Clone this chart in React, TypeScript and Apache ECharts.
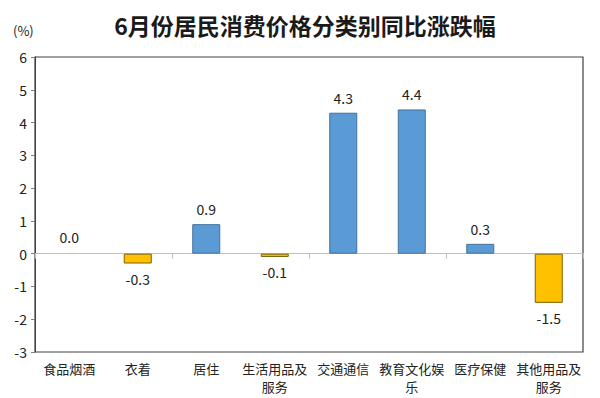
import React, { useEffect, useRef } from "react";
import * as echarts from "echarts";

const categories = ["食品烟酒", "衣着", "居住", "生活用品及\n服务", "交通通信", "教育文化娱\n乐", "医疗保健", "其他用品及\n服务"];
const values = [0.0, -0.3, 0.9, -0.1, 4.3, 4.4, 0.3, -1.5];
const yTicks = { min: -3, max: 6, interval: 1 };
const titleText = "6月份居民消费价格分类别同比涨跌幅";
const unitText = "(%)";

export default function App() {
  const ref = useRef<HTMLDivElement>(null);
  useEffect(() => {
    if (!ref.current) return;
    const chart = echarts.init(ref.current, null, { renderer: "svg" });
    const font = "'Noto Sans CJK SC', 'Noto Sans', sans-serif";
    chart.setOption({
      animation: false,
      backgroundColor: "#ffffff",
      textStyle: { fontFamily: font },
      title: {
        text: titleText,
        left: 300,
        textAlign: "center",
        top: 8,
        textStyle: { fontSize: 23, fontWeight: "bold", color: "#1a1a1a", fontFamily: font },
      },
      graphic: [
        {
          type: "text",
          left: 13,
          top: 24,
          style: { text: unitText, fontSize: 13, fill: "#222", fontFamily: font },
        },
      ],
      grid: {
        left: 35,
        right: 17,
        top: 57,
        bottom: 46,
        show: true,
        borderColor: "#404040",
        borderWidth: 1.2,
        containLabel: false,
      },
      xAxis: [
        {
          type: "category",
          data: categories,
          position: "bottom",
          axisLine: { show: false, onZero: false },
          axisTick: { show: false },
          axisLabel: { fontSize: 13, color: "#222", lineHeight: 18, margin: 7, interval: 0, fontFamily: font },
        },
        {
          type: "category",
          data: categories,
          position: "top",
          axisLine: { show: true, onZero: true, lineStyle: { color: "#bfbfbf", width: 1 } },
          axisTick: { show: true, inside: true, length: 5, lineStyle: { color: "#bfbfbf" } },
          axisLabel: { show: false },
        },
      ],
      yAxis: {
        type: "value",
        min: yTicks.min,
        max: yTicks.max,
        interval: yTicks.interval,
        axisLine: { show: true, lineStyle: { color: "#404040" } },
        axisTick: { show: true, length: 4, lineStyle: { color: "#808080" } },
        splitLine: { show: false },
        axisLabel: { fontSize: 14, color: "#222", margin: 8, fontFamily: font },
      },
      series: [
        {
          type: "bar",
          xAxisIndex: 0,
          barWidth: 28,
          data: values.map((v) => ({
            value: v,
            itemStyle: {
              color: v >= 0 ? "#5b9bd5" : "#ffc000",
              borderColor: v >= 0 ? "#41719c" : "#7f6000",
              borderWidth: v === 0 ? 0 : 1,
            },
            label: {
              show: true,
              position: v >= 0 ? "top" : "bottom",
              distance: v === 0 ? 10 : 8,
              formatter: v.toFixed(1),
              fontSize: 14,
              color: "#222",
              fontFamily: font,
            },
          })),
        },
      ],
    });
    return () => chart.dispose();
  }, []);
  return <div ref={ref} style={{ width: 600, height: 398, position: "absolute", left: 0, top: 0 }} />;
}
